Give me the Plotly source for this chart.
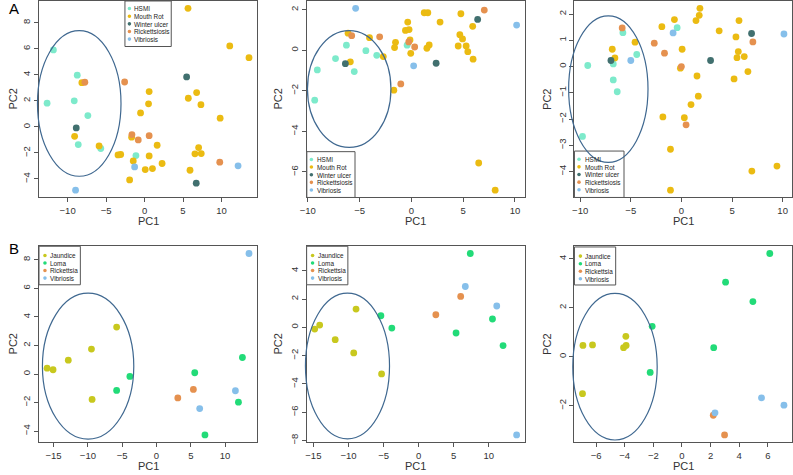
import plotly.graph_objects as go

W, H = 793, 475
FONT = "Liberation Sans, Arial, Helvetica, sans-serif"

# ---------------- groups / colours ----------------
A_GROUPS = ["HSMI", "Mouth Rot", "Winter ulcer", "Rickettsiosis", "Vibriosis"]
A_COLORS = ["#7DEACB", "#EBBB12", "#41706F", "#E5914F", "#86BFEA"]
B_GROUPS = ["Jaundice", "Loma", "Rickettsia", "Vibriosis"]
B_COLORS = ["#C8C81E", "#22DB78", "#E5914F", "#86BFEA"]

# ---------------- panel A1 ----------------
A1_PC1 = {
    "HSMI": [-11.85, -8.75, -12.67, -9.14, -7.37, -8.62, -5.69, -1.12],
    "Mouth Rot": [5.65, 11.08, 13.58, -8.15, 0.6, 6.77, 5.69, 7.33, 0.52, -0.52, 9.83, -9.09,
                  -5.91, -1.68, 1.64, 7.03, -3.45, -3.1, 0.6, 6.55, 7.37, -1.47, 2.28, 1.03,
                  0.09, 5.91, -1.94],
    "Winter ulcer": [-8.88, 5.47, 6.72],
    "Rickettsiosis": [-7.76, -2.59, -1.64, -0.82, 0.6, 9.78],
    "Vibriosis": [-8.97, -1.29, 12.16],
}
A1_PC2 = {
    "HSMI": [5.91, 3.97, 1.82, 2.0, 0.87, -1.36, -1.66, -2.2],
    "Mouth Rot": [9.11, 6.22, 5.32, 3.4, 2.71, 2.64, 2.2, 1.71, 1.77, 1.07, 0.67, -0.72,
                  -1.46, -0.79, -1.41, -1.59, -2.15, -2.12, -2.23, -2.07, -2.05, -2.61, -2.81, -3.2,
                  -3.28, -3.33, -4.07],
    "Winter ulcer": [-0.08, 3.84, -4.32],
    "Rickettsiosis": [3.43, 3.45, -0.59, -1.0, -0.67, -2.71],
    "Vibriosis": [-4.86, -3.07, -2.99],
}
A1_ELLIPSE = [-8.49, 1.8, 5.43, 5.59]   # centre x, centre y, radius x, radius y

# ---------------- panel A2 ----------------
A2_PC1 = {
    "HSMI": [-9.33, -9.08, -7.32, -6.27, -4.39, -5.51, -3.34, -0.41],
    "Mouth Rot": [-6.11, -4.04, -5.89, -2.71, -1.53, -1.62, -1.69, -0.57, -0.35, -0.22, -0.13,
                  -0.06, 1.24, 1.59, 2.77, 1.72, 1.5, 4.78, 4.68, 4.94, 4.52, 5.29, 5.45, 5.92,
                  5.96, 6.5, 8.09],
    "Winter ulcer": [-6.37, 2.39, 6.4],
    "Rickettsiosis": [-5.76, -3.06, -0.25, 0.32, -1.02, 7.04],
    "Vibriosis": [-5.38, 0.22, 10.16],
}
A2_PC2 = {
    "HSMI": [-2.46, -0.97, -0.41, 0.25, -0.02, -1.05, -0.25, 0.25],
    "Mouth Rot": [0.84, 0.62, -0.57, -0.31, 0.39, 0.13, -1.97, 0.98, 1.39, 1.02, 0.51,
                  -0.15, 1.85, 1.85, 1.39, 0.26, 0.1, 1.8, 0.77, 0.56, 0.21, 0.21, -0.07, 1.18,
                  -0.44, -5.56, -6.9],
    "Winter ulcer": [-0.66, -0.64, 1.52],
    "Rickettsiosis": [0.72, 0.66, 0.41, 0.16, -1.66, 1.98],
    "Vibriosis": [2.07, -0.77, 1.24],
}
A2_ELLIPSE = [-6.0, -1.91, 4.03, 2.88]

# ---------------- panel A3 ----------------
A3_PC1 = {
    "HSMI": [-9.25, -9.77, -5.78, -6.73, -6.73, -6.34, -4.41, -0.42],
    "Mouth Rot": [-6.83, -6.57, -4.58, -1.93, -0.69, 0.07, -0.1, 1.54, 1.44, 1.76, 1.83, 3.73,
                  5.39, 5.62, 5.49, 5.69, 6.21, 6.57, 5.2, 1.67, 0.95, -1.83, 0.29, -1.08,
                  -1.08, 6.96, 9.44],
    "Winter ulcer": [-6.96, 2.88, 6.93],
    "Rickettsiosis": [-5.85, -2.68, -1.67, 0.0, 0.46, 7.06],
    "Vibriosis": [-0.82, -5.0, 10.13],
}
A3_PC2 = {
    "HSMI": [0.04, -2.66, 1.29, 0.1, -0.51, -0.96, 0.46, 1.48],
    "Mouth Rot": [0.66, 0.33, 0.93, 1.52, 1.79, 0.66, -0.06, -0.36, 1.75, 1.95, 2.22, 1.36,
                  1.13, 0.57, 0.34, 1.75, 0.38, -0.19, -0.47, -1.13, -1.45, -1.92, -1.95, -3.15,
                  -4.71, -3.98, -3.79],
    "Winter ulcer": [0.23, 0.23, 1.26],
    "Rickettsiosis": [1.47, 0.89, 0.51, 0.0, -2.22, 0.94],
    "Vibriosis": [1.28, 0.23, 1.24],
}
A3_ELLIPSE = [-7.22, -0.86, 3.92, 2.79]

# ---------------- panel B1 ----------------
B1_PC1 = {
    "Jaundice": [-15.95, -15.08, -12.86, -9.48, -5.81, -9.39],
    "Loma": [-5.81, -3.88, 5.58, 12.53, 11.95, 7.07],
    "Rickettsia": [3.11, 5.38],
    "Vibriosis": [13.49, 6.3, 11.51],
}
B1_PC2 = {
    "Jaundice": [0.41, 0.3, 0.97, 1.75, 3.29, -1.78],
    "Loma": [-1.15, -0.17, 0.09, 1.16, -1.97, -4.26],
    "Rickettsia": [-1.67, -1.08],
    "Vibriosis": [8.44, -2.42, -1.17],
}
B1_ELLIPSE = [-9.97, 0.55, 6.66, 5.11]

# ---------------- panel B2 ----------------
B2_PC1 = {
    "Jaundice": [-14.81, -14.1, -11.89, -8.92, -9.25, -5.28],
    "Loma": [-5.38, -3.82, 5.33, 7.36, 10.52, 12.03],
    "Rickettsia": [2.45, 5.99],
    "Vibriosis": [6.65, 11.13, 13.96],
}
B2_PC2 = {
    "Jaundice": [-0.12, 0.16, -0.87, 1.29, -1.81, -3.29],
    "Loma": [0.82, -0.05, -0.4, 5.22, 0.59, -1.29],
    "Rickettsia": [0.89, 2.19],
    "Vibriosis": [2.89, 1.51, -7.6],
}
B2_ELLIPSE = [-10.14, -2.73, 5.99, 5.15]

# ---------------- panel B3 ----------------
B3_PC1 = {
    "Jaundice": [-6.92, -6.25, -3.92, -4.08, -3.9, -6.95],
    "Loma": [-2.08, -2.22, 2.22, 3.05, 4.96, 6.14],
    "Rickettsia": [2.19, 2.98],
    "Vibriosis": [2.31, 5.56, 7.13],
}
B3_PC2 = {
    "Jaundice": [0.46, 0.48, 0.83, 0.37, 0.46, -1.51],
    "Loma": [1.24, -0.64, 0.37, 3.04, 2.25, 4.21],
    "Rickettsia": [-2.39, -3.19],
    "Vibriosis": [-2.29, -1.68, -1.98],
}
B3_ELLIPSE = [-4.68, -0.41, 2.95, 2.99]

# ---------------- tick values ----------------
A1_XTICKS, A1_YTICKS = [-10, -5, 0, 5, 10], [-4, -2, 0, 2, 4, 6, 8]
A2_XTICKS, A2_YTICKS = [-10, -5, 0, 5, 10], [-6, -4, -2, 0, 2]
A3_XTICKS, A3_YTICKS = [-10, -5, 0, 5, 10], [-4, -3, -2, -1, 0, 1, 2]
B1_XTICKS, B1_YTICKS = [-15, -10, -5, 0, 5, 10], [-4, -2, 0, 2, 4, 6, 8]
B2_XTICKS, B2_YTICKS = [-15, -10, -5, 0, 5, 10], [-8, -6, -4, -2, 0, 2, 4]
B3_XTICKS, B3_YTICKS = [-6, -4, -2, 0, 2, 4, 6], [-2, 0, 2, 4]

# ---------------- layout (pixels) ----------------
COLS = [(32.3, 252.3), (302.3, 522.3), (572.5, 792.0)]
ROWS = [(1.0, 198.3), (247.3, 444.0)]
PC2_OFF = [26, 28.5, 27]

panels = [
    dict(px=COLS[0], py=ROWS[0], pc1=A1_PC1, pc2=A1_PC2, groups=A_GROUPS, colors=A_COLORS,
         ell=A1_ELLIPSE, xt=A1_XTICKS, yt=A1_YTICKS, pc2off=PC2_OFF[0],
         leg=dict(l=119.0, t=1.0, w=46.7, h=45.7, first=7.6, step=7.67, mdx=4.5, tdx=8.5)),
    dict(px=COLS[1], py=ROWS[0], pc1=A2_PC1, pc2=A2_PC2, groups=A_GROUPS, colors=A_COLORS,
         ell=A2_ELLIPSE, xt=A2_XTICKS, yt=A2_YTICKS, pc2off=PC2_OFF[1],
         leg=dict(l=302.5, t=152.3, w=48.6, h=46.0, first=7.8, step=7.67, mdx=4.6, tdx=9.0)),
    dict(px=COLS[2], py=ROWS[0], pc1=A3_PC1, pc2=A3_PC2, groups=A_GROUPS, colors=A_COLORS,
         ell=A3_ELLIPSE, xt=A3_XTICKS, yt=A3_YTICKS, pc2off=PC2_OFF[2],
         leg=dict(l=572.5, t=151.7, w=50.0, h=46.6, first=8.2, step=7.67, mdx=4.6, tdx=9.2)),
    dict(px=COLS[0], py=ROWS[1], pc1=B1_PC1, pc2=B1_PC2, groups=B_GROUPS, colors=B_COLORS,
         ell=B1_ELLIPSE, xt=B1_XTICKS, yt=B1_YTICKS, pc2off=PC2_OFF[0],
         leg=dict(l=32.3, t=247.3, w=41.7, h=38.7, first=9.2, step=7.6, mdx=6.0, tdx=10.0)),
    dict(px=COLS[1], py=ROWS[1], pc1=B2_PC1, pc2=B2_PC2, groups=B_GROUPS, colors=B_COLORS,
         ell=B2_ELLIPSE, xt=B2_XTICKS, yt=B2_YTICKS, pc2off=PC2_OFF[1],
         leg=dict(l=302.3, t=247.3, w=41.6, h=38.7, first=9.2, step=7.6, mdx=6.0, tdx=10.0)),
    dict(px=COLS[2], py=ROWS[1], pc1=B3_PC1, pc2=B3_PC2, groups=B_GROUPS, colors=B_COLORS,
         ell=B3_ELLIPSE, xt=B3_XTICKS, yt=B3_YTICKS, pc2off=PC2_OFF[2],
         leg=dict(l=572.5, t=248.0, w=41.6, h=38.2, first=9.2, step=7.6, mdx=6.0, tdx=10.0)),
]


def r_range(vals):
    lo, hi = min(vals), max(vals)
    pad = 0.04 * (hi - lo)
    return [lo - pad, hi + pad]


def fx(p):
    return p / W


def fy(p):
    return 1 - p / H


fig = go.Figure()
shapes, annotations = [], []
AXCOL = "#555555"

for i, p in enumerate(panels, start=1):
    xa = "x" if i == 1 else f"x{i}"
    ya = "y" if i == 1 else f"y{i}"
    allx = [v for g in p["groups"] for v in p["pc1"][g]]
    ally = [v for g in p["groups"] for v in p["pc2"][g]]
    xr, yr = r_range(allx), r_range(ally)

    for g, c in zip(p["groups"], p["colors"]):
        fig.add_trace(go.Scatter(
            x=p["pc1"][g], y=p["pc2"][g], mode="markers", name=g, showlegend=False,
            marker=dict(color=c, size=6.8, line=dict(width=0)),
            xaxis=xa, yaxis=ya, cliponaxis=False))

    axis_common = dict(showgrid=False, zeroline=False, showline=True, mirror=True,
                       linecolor=AXCOL, linewidth=1, ticks="outside", ticklen=4,
                       tickcolor=AXCOL, tickwidth=1,
                       tickfont=dict(family=FONT, size=9.5, color="#333333"))
    l, r = p["px"]
    t, b = p["py"]
    fig.update_layout({
        ("xaxis" if i == 1 else f"xaxis{i}"): dict(
            domain=[fx(l), fx(r)], range=xr, anchor=ya, tickmode="array",
            tickvals=p["xt"], ticktext=[f"{v}".replace("-", "\u2212") for v in p["xt"]],
            **axis_common),
        ("yaxis" if i == 1 else f"yaxis{i}"): dict(
            domain=[fy(b), fy(t)], range=yr, anchor=xa, tickmode="array", tickangle=-90,
            tickvals=p["yt"], ticktext=[f"{v}".replace("-", "\u2212") for v in p["yt"]],
            **axis_common),
    })

    # axis titles
    annotations.append(dict(text="PC1", x=fx((l + r) / 2), y=fy(b + 24), xref="paper",
                            yref="paper", showarrow=False, xanchor="center", yanchor="middle",
                            font=dict(family=FONT, size=11, color="#333333")))
    annotations.append(dict(text="PC2", x=fx(l - p["pc2off"]), y=fy((t + b) / 2), xref="paper",
                            yref="paper", showarrow=False, xanchor="center", yanchor="middle",
                            textangle=-90, font=dict(family=FONT, size=11, color="#333333")))

    # legend box (drawn in paper coordinates)
    lg = p["leg"]
    shapes.append(dict(type="rect", xref="paper", yref="paper", layer="above",
                       x0=fx(lg["l"]), x1=fx(lg["l"] + lg["w"]),
                       y0=fy(lg["t"] + lg["h"]), y1=fy(lg["t"]),
                       line=dict(color=AXCOL, width=1), fillcolor="white"))
    for k, (g, c) in enumerate(zip(p["groups"], p["colors"])):
        cy = lg["t"] + lg["first"] + k * lg["step"]
        cx = lg["l"] + lg["mdx"]
        rad = 1.8
        shapes.append(dict(type="circle", xref="paper", yref="paper", layer="above",
                           x0=fx(cx - rad), x1=fx(cx + rad), y0=fy(cy + rad), y1=fy(cy - rad),
                           line=dict(width=0), fillcolor=c))
        annotations.append(dict(text=g, x=fx(lg["l"] + lg["tdx"]), y=fy(cy + 0.3), xref="paper",
                                yref="paper", showarrow=False, xanchor="left", yanchor="middle",
                                borderpad=0, font=dict(family=FONT, size=6.4, color="#222222")))

    # confidence ellipse, converted from data units to axis-domain fractions (unclipped)
    cxv, cyv, rx, ry = p["ell"]
    shapes.append(dict(type="circle", xref=f"{xa} domain", yref=f"{ya} domain", layer="above",
                       x0=(cxv - rx - xr[0]) / (xr[1] - xr[0]),
                       x1=(cxv + rx - xr[0]) / (xr[1] - xr[0]),
                       y0=(cyv - ry - yr[0]) / (yr[1] - yr[0]),
                       y1=(cyv + ry - yr[0]) / (yr[1] - yr[0]),
                       line=dict(color="#3F6890", width=1.2), fillcolor="rgba(0,0,0,0)"))

annotations.append(dict(text="A", x=fx(1.5), y=fy(8.2), xref="paper", yref="paper",
                        showarrow=False, xanchor="left", yanchor="middle", borderpad=0,
                        font=dict(family=FONT, size=15, color="#000000")))
annotations.append(dict(text="B", x=fx(1.5), y=fy(249.3), xref="paper", yref="paper",
                        showarrow=False, xanchor="left", yanchor="middle", borderpad=0,
                        font=dict(family=FONT, size=15, color="#000000")))

fig.update_layout(width=W, height=H, margin=dict(l=0, r=0, t=0, b=0),
                  paper_bgcolor="white", plot_bgcolor="white", showlegend=False,
                  shapes=shapes, annotations=annotations, hovermode=False,
                  font=dict(family=FONT))

fig.write_html("out.html", config={"displayModeBar": False, "staticPlot": True},
               post_script="document.body.style.margin='0';document.body.style.overflow='hidden';")
